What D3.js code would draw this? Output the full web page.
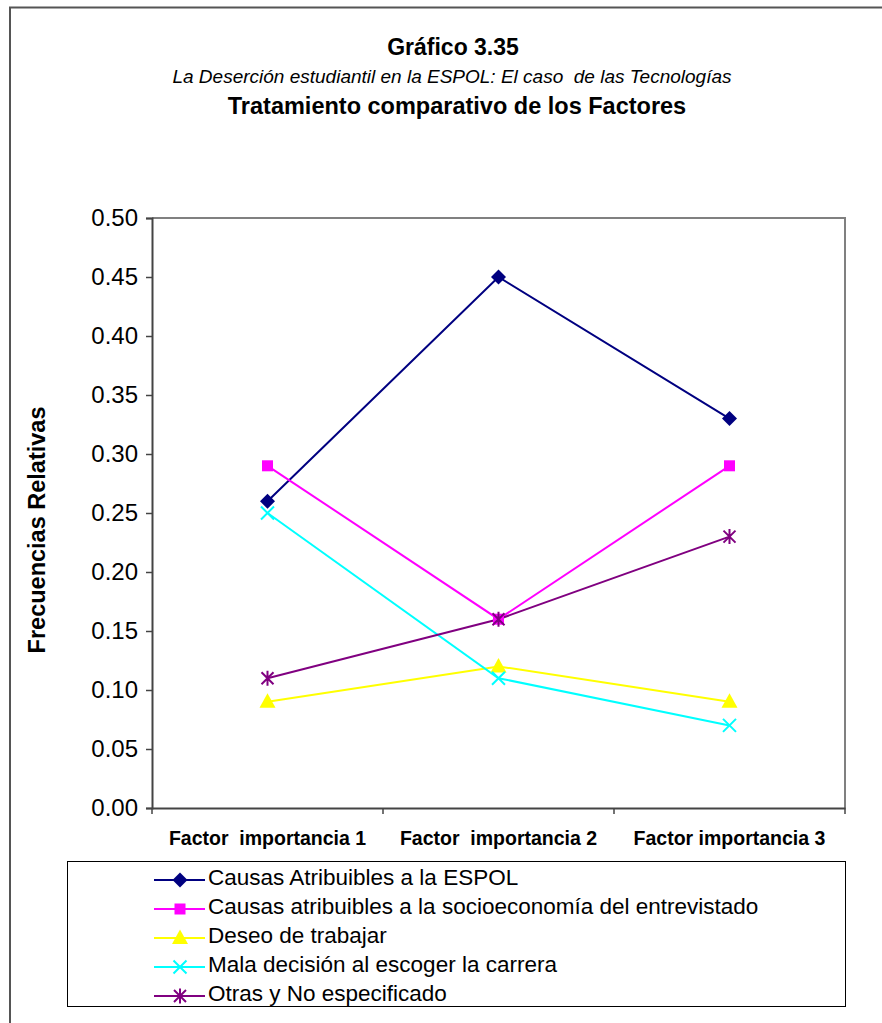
<!DOCTYPE html>
<html><head><meta charset="utf-8">
<script src="https://cdn.jsdelivr.net/npm/d3@7"></script>
<style>body{margin:0;background:#fff}svg{display:block}text{font-family:"Liberation Sans",Arial,sans-serif;white-space:pre}</style>
</head><body>
<script>
const categories = ["Factor  importancia 1", "Factor  importancia 2", "Factor importancia 3"];
const seriesNames = ["Causas Atribuibles a la ESPOL", "Causas atribuibles a la socioeconomía del entrevistado", "Deseo de trabajar", "Mala decisión al escoger la carrera", "Otras y No especificado"];
const espol = [0.26, 0.45, 0.33];
const socio = [0.29, 0.16, 0.29];
const deseo = [0.09, 0.12, 0.09];
const mala = [0.25, 0.11, 0.07];
const otras = [0.11, 0.16, 0.23];
const yTicks = [0, 0.05, 0.10, 0.15, 0.20, 0.25, 0.30, 0.35, 0.40, 0.45, 0.50];
const colors = ["#000080", "#FF00FF", "#FFFF00", "#00FFFF", "#800080"];
const markers = ["diamond", "square", "triangle", "x", "star"];
const series = [espol, socio, deseo, mala, otras].map((v, i) => ({name: seriesNames[i], values: v, color: colors[i], marker: markers[i]}));

const W = 882, H = 1023;
const svg = d3.select("body").append("svg").attr("width", W).attr("height", H);
// outer frame
svg.append("path").attr("d", `M10,${H+5} L10,7.5 L${W+5},7.5`).attr("fill", "none").attr("stroke", "#555").attr("stroke-width", 2);

svg.append("text").attr("x", 453).attr("y", 55).attr("text-anchor", "middle").attr("font-weight", "bold").attr("font-size", 23).text("Gráfico 3.35");
svg.append("text").attr("x", 452).attr("y", 83).attr("text-anchor", "middle").attr("font-style", "italic").attr("font-size", 19).text("La Deserción estudiantil en la ESPOL: El caso  de las Tecnologías");
svg.append("text").attr("x", 457).attr("y", 114).attr("text-anchor", "middle").attr("font-weight", "bold").attr("font-size", 23.5).text("Tratamiento comparativo de los Factores");

const L = 152, R = 845, T = 218, B = 808;
const x = d3.scaleBand().domain(categories).range([L, R]);
const y = d3.scaleLinear().domain([0, 0.5]).range([B, T]);

// plot border (top/right)
svg.append("path").attr("d", `M${L},${T} L${R},${T} L${R},${B}`).attr("fill", "none").attr("stroke", "#808080").attr("stroke-width", 2);

const yAxis = svg.append("g").attr("transform", `translate(${L},0)`)
  .call(d3.axisLeft(y).tickValues(yTicks).tickFormat(d3.format(".2f")).tickSize(6).tickPadding(8));
yAxis.select(".domain").attr("stroke", "#444").attr("stroke-width", 2);
yAxis.selectAll(".tick line").attr("stroke", "#444").attr("stroke-width", 1.5);
yAxis.selectAll("text").attr("font-size", 24).attr("fill", "#000").attr("font-family", "Liberation Sans, Arial, sans-serif");

const xAxis = svg.append("g").attr("transform", `translate(0,${B})`)
  .call(d3.axisBottom(x).tickSize(0).tickPadding(18));
xAxis.select(".domain").attr("stroke", "#444").attr("stroke-width", 2);
xAxis.selectAll("text").attr("font-size", 19.5).attr("font-weight", "bold").attr("fill", "#000").attr("dy", "0.95em").attr("font-family", "Liberation Sans, Arial, sans-serif");
// boundary ticks
const bounds = categories.map(c => x(c)).concat([R]);
svg.append("g").selectAll("line").data(bounds).join("line")
  .attr("x1", d => d).attr("x2", d => d).attr("y1", B).attr("y2", B + 6)
  .attr("stroke", "#444").attr("stroke-width", 1.5);

svg.append("text").attr("transform", `translate(45,530) rotate(-90)`).attr("text-anchor", "middle")
  .attr("font-weight", "bold").attr("font-size", 23.5).text("Frecuencias Relativas");

function drawMarker(g, type, color, cx, cy) {
  if (type === "diamond") {
    g.append("path").attr("d", `M${cx},${cy-7.5} L${cx+7.5},${cy} L${cx},${cy+7.5} L${cx-7.5},${cy} Z`).attr("fill", color);
  } else if (type === "square") {
    g.append("rect").attr("x", cx-5.5).attr("y", cy-5.5).attr("width", 11).attr("height", 11).attr("fill", color);
  } else if (type === "triangle") {
    g.append("path").attr("d", `M${cx},${cy-8.5} L${cx+8},${cy+6} L${cx-8},${cy+6} Z`).attr("fill", color);
  } else if (type === "x") {
    g.append("path").attr("d", `M${cx-6.5},${cy-6.5} L${cx+6.5},${cy+6.5} M${cx-6.5},${cy+6.5} L${cx+6.5},${cy-6.5}`).attr("stroke", color).attr("stroke-width", 2);
  } else if (type === "star") {
    g.append("path").attr("d", `M${cx-6},${cy-6} L${cx+6},${cy+6} M${cx-6},${cy+6} L${cx+6},${cy-6} M${cx},${cy-7.5} L${cx},${cy+7.5}`).attr("stroke", color).attr("stroke-width", 2);
  }
}

const line = d3.line().x((d, i) => x(categories[i]) + x.bandwidth() / 2).y(d => y(d));
series.forEach(s => {
  svg.append("path").attr("d", line(s.values)).attr("fill", "none").attr("stroke", s.color).attr("stroke-width", 2);
});
series.forEach(s => {
  const g = svg.append("g");
  s.values.forEach((v, i) => drawMarker(g, s.marker, s.color, x(categories[i]) + x.bandwidth() / 2, y(v)));
});

// legend
svg.append("rect").attr("x", 67.5).attr("y", 861.5).attr("width", 778).attr("height", 145).attr("fill", "#fff").attr("stroke", "#000").attr("stroke-width", 1);
const ly = d3.scalePoint().domain(seriesNames).range([880, 996]);
series.forEach(s => {
  const yy = ly(s.name);
  const g = svg.append("g");
  g.append("line").attr("x1", 154).attr("x2", 205).attr("y1", yy).attr("y2", yy).attr("stroke", s.color).attr("stroke-width", 2);
  drawMarker(g, s.marker, s.color, 180, yy);
  g.append("text").attr("x", 208).attr("y", yy + 5).attr("font-size", 22.5).text(s.name);
});
</script>
</body></html>
